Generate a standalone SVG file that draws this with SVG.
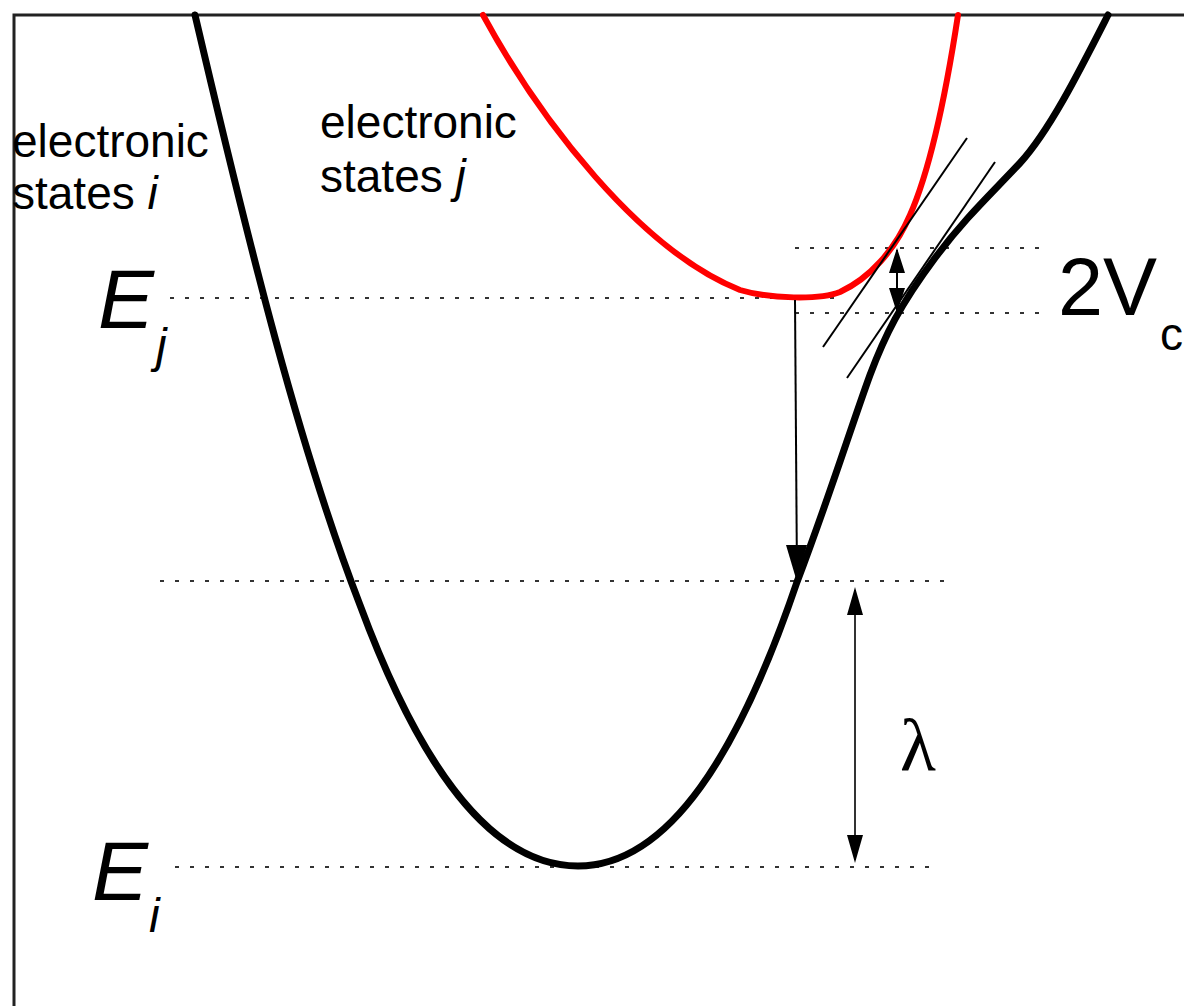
<svg xmlns="http://www.w3.org/2000/svg" width="1184" height="1006" viewBox="0 0 1184 1006">
<style>
.lbl{font-family:"Liberation Sans",Arial,sans-serif;fill:#000}
.it{font-style:italic}
.dot{stroke:#333;stroke-width:2;stroke-dasharray:4 11;fill:none}
.thin{stroke:#000;stroke-width:2;fill:none}
</style>
<rect width="1184" height="1006" fill="#fff"/>
<g id="frame" stroke="#222" stroke-width="3" fill="none">
<path d="M14,1006 V15 H1184"/>
</g>
<g id="levels">
<line class="dot" x1="170" y1="298" x2="840" y2="298"/>
<line class="dot" x1="795" y1="248" x2="1045" y2="248"/>
<line class="dot" x1="795" y1="313" x2="1045" y2="313"/>
<line class="dot" x1="160" y1="581" x2="950" y2="581"/>
<line class="dot" x1="175" y1="867" x2="935" y2="867"/>
</g>
<g id="curves" fill="none" stroke-linecap="round" stroke-linejoin="round">
<path id="state-i" stroke="#000" stroke-width="7" d="M195,15 C250,250 300,450 360,605 C410,740 480,866 578,866 C670,866 740,750 797,582 C830,495 850,430 870,375 C885,335 900,305 935,258 C965,218 990,195 1020,163 C1050,130 1080,70 1108,15"/>
<path id="state-j" stroke="#f00" stroke-width="6" d="M483,15 C540,120 640,250 740,290 C770,299 820,300 840,292 C870,278 895,250 910,215 C930,170 945,100 958,15"/>
</g>
<g id="connectors">
<line class="thin" x1="823" y1="347" x2="967" y2="138"/>
<line class="thin" x1="847" y1="378" x2="995" y2="162"/>
<line x1="795" y1="300" x2="797" y2="580" stroke="#000" stroke-width="2"/>
<path d="M786,545 L807,545 L797,582 Z" fill="#000"/>
<line x1="855" y1="590" x2="855" y2="860" stroke="#333" stroke-width="2"/>
<path d="M855,587 L863,615 L847,615 Z M855,863 L863,835 L847,835 Z" fill="#000"/>
<line x1="897" y1="250" x2="897" y2="311" stroke="#000" stroke-width="2"/>
<path d="M897,248 L905,273 L889,273 Z M897,313 L905,288 L889,288 Z" fill="#000"/>
</g>
<g id="label-i">
<text class="lbl" font-size="46" x="12" y="157">electronic</text>
<text class="lbl" font-size="46" x="12" y="209">states <tspan class="it">i</tspan></text>
</g>
<g id="label-j">
<text class="lbl" font-size="46" x="320" y="138">electronic</text>
<text class="lbl" font-size="46" x="320" y="192">states <tspan class="it">j</tspan></text>
</g>
<g id="label-Ej">
<text class="lbl it" font-size="84" x="98" y="328">E</text>
<text class="lbl it" font-size="48" x="156" y="362">j</text>
</g>
<g id="label-Ei">
<text class="lbl it" font-size="84" x="92" y="900">E</text>
<text class="lbl it" font-size="48" x="149" y="932">i</text>
</g>
<g id="label-2Vc">
<text class="lbl" font-size="81" x="1058" y="315">2V</text>
<text class="lbl" font-size="46" x="1160" y="350">c</text>
</g>
<g id="label-lambda">
<text font-family="Liberation Serif,'Times New Roman',serif" font-size="74" x="900" y="770">λ</text>
</g>
</svg>
